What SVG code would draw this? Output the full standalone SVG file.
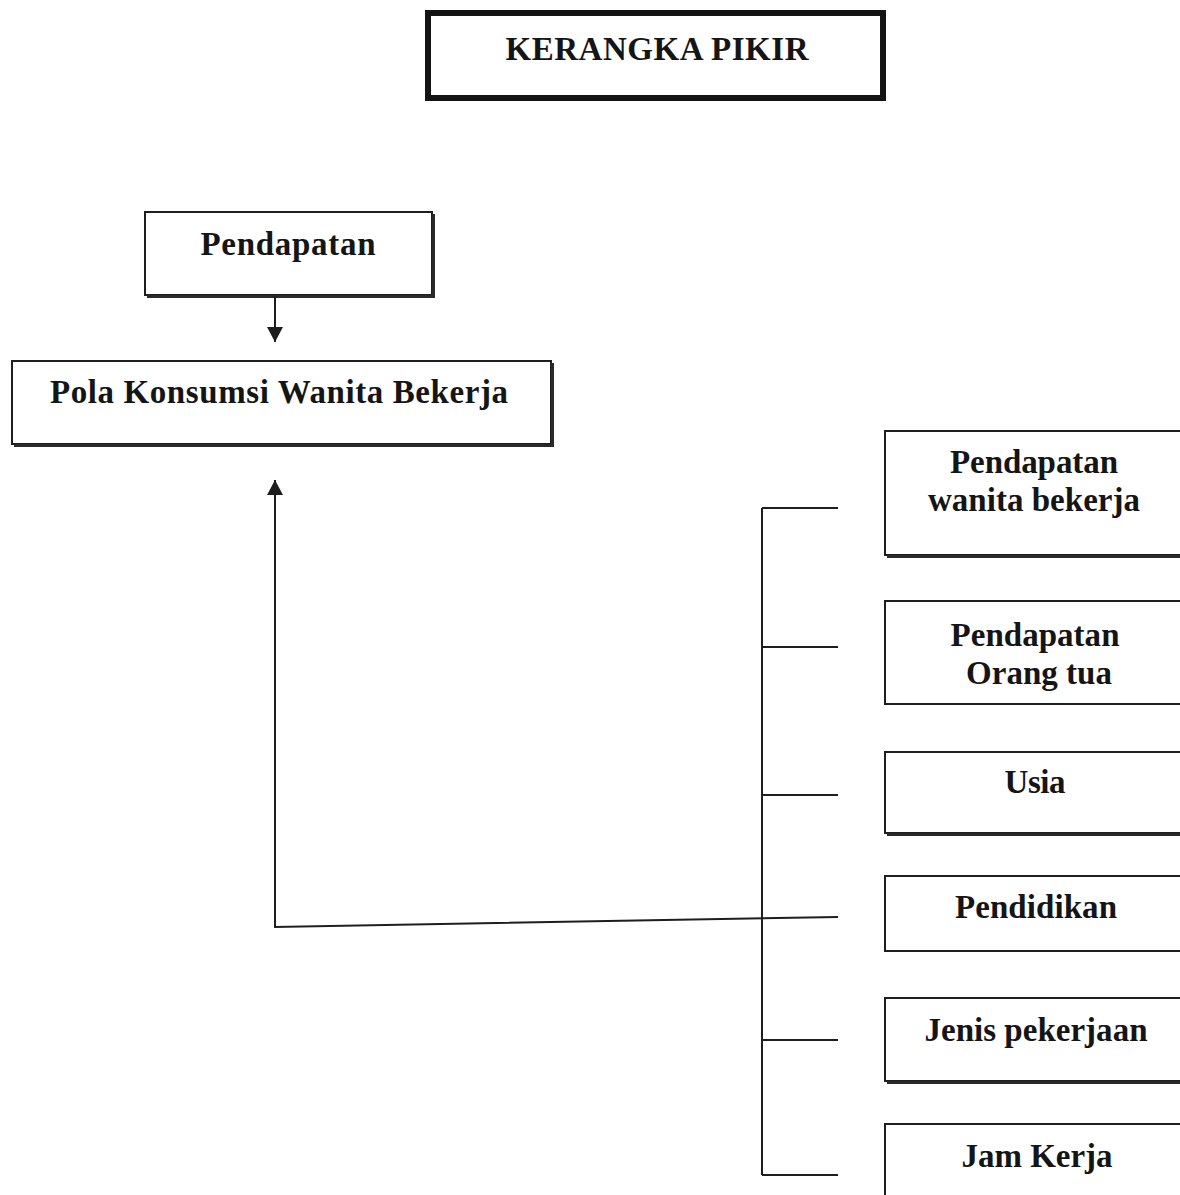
<svg xmlns="http://www.w3.org/2000/svg" width="1180" height="1195" viewBox="0 0 1180 1195">
<defs>
<style>
.box{fill:#fff;stroke:#1e1e1e;stroke-width:2}
.sh{fill:none;stroke:#2a2a2a;stroke-width:3}
.t{font-family:"Liberation Serif","Times New Roman",serif;font-weight:bold;font-size:33px;fill:#151515;text-anchor:middle}
.c{fill:none;stroke:#1e1e1e;stroke-width:2}
</style>
<marker id="ah" viewBox="0 0 10 10" refX="10" refY="5" markerWidth="8" markerHeight="8" markerUnits="userSpaceOnUse" orient="auto">
<path d="M0,0 L10,5 L0,10 Z" fill="#1e1e1e"/>
</marker>
<marker id="ah2" viewBox="0 0 16 16" refX="15" refY="8" markerWidth="16" markerHeight="16" markerUnits="userSpaceOnUse" orient="auto">
<path d="M0,0 L15,8 L0,16 Z" fill="#1e1e1e"/>
</marker>
</defs>
<rect width="1180" height="1195" fill="#fff"/>

<g id="title">
<rect x="428" y="13" width="455" height="85" fill="#fff" stroke="#141414" stroke-width="6"/>
<text class="t" x="657" y="60" textLength="303" lengthAdjust="spacing">KERANGKA PIKIR</text>
</g>

<g id="pendapatan">
<rect class="box" x="145" y="212" width="287" height="83"/>
<path class="sh" d="M147 296.5 H433.5 V214"/>
<text class="t" x="288" y="255" textLength="175" lengthAdjust="spacing">Pendapatan</text>
</g>

<g id="pola">
<rect class="box" x="12" y="361" width="539" height="83"/>
<path class="sh" d="M14 445.5 H552.5 V363"/>
<text class="t" x="279" y="403" textLength="458" lengthAdjust="spacing">Pola Konsumsi Wanita Bekerja</text>
</g>

<g id="pendapatan-wanita">
<rect class="box" x="885" y="431" width="300" height="124"/>
<path class="sh" d="M887 556.5 H1185"/>
<text class="t" x="1034" y="473" textLength="168" lengthAdjust="spacing">Pendapatan</text>
<text class="t" x="1034" y="511" textLength="212" lengthAdjust="spacing">wanita bekerja</text>
</g>

<g id="pendapatan-ortu">
<rect class="box" x="885" y="601" width="300" height="103"/>
<text class="t" x="1035" y="646" textLength="169" lengthAdjust="spacing">Pendapatan</text>
<text class="t" x="1039" y="684" textLength="146" lengthAdjust="spacing">Orang tua</text>
</g>

<g id="usia">
<rect class="box" x="885" y="752" width="300" height="81"/>
<path class="sh" d="M887 834.5 H1185"/>
<text class="t" x="1035" y="793" textLength="61" lengthAdjust="spacing">Usia</text>
</g>

<g id="pendidikan">
<rect class="box" x="885" y="876" width="300" height="75"/>
<text class="t" x="1036" y="918" textLength="162" lengthAdjust="spacing">Pendidikan</text>
</g>

<g id="jenis-pekerjaan">
<rect class="box" x="885" y="998" width="300" height="83"/>
<path class="sh" d="M887 1082.5 H1185"/>
<text class="t" x="1036" y="1041" textLength="223" lengthAdjust="spacing">Jenis pekerjaan</text>
</g>

<g id="jam-kerja">
<rect class="box" x="885" y="1124" width="300" height="90"/>
<text class="t" x="1037" y="1167" textLength="151" lengthAdjust="spacing">Jam Kerja</text>
</g>

<g id="connectors">
<line class="c" x1="275" y1="296" x2="275" y2="342" marker-end="url(#ah2)"/>
<path class="c" d="M762 508 V1175"/>
<path class="c" d="M762 508 H838 M762 647 H838 M762 795 H838 M762 1040 H838 M762 1175 H838"/>
<path class="c" d="M838 917 L275 927 L275 480" marker-end="url(#ah2)"/>
</g>
</svg>
